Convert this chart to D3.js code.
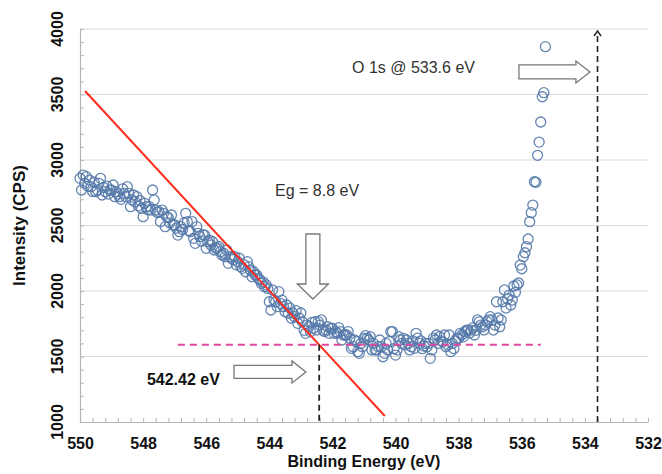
<!DOCTYPE html>
<html>
<head>
<meta charset="utf-8">
<script src="https://cdn.jsdelivr.net/npm/d3@7"></script>
<style>
  html, body { margin: 0; padding: 0; background: #fff; }
  svg { display: block; font-family: "Liberation Sans", Arial, Helvetica, sans-serif; }
</style>
</head>
<body>
<svg id="chart" width="662" height="474"></svg>
<script>
// ---------------- DATA ----------------
const xTickLabels = [550, 548, 546, 544, 542, 540, 538, 536, 534, 532];
const yTickLabels = [1000, 1500, 2000, 2500, 3000, 3500, 4000];
const gridValues = [1500, 2000, 2500, 3000, 3500, 4000];

// Binding energy grid (eV): 550.00 down to 535.25 in 0.05 eV steps
const energyStart = 550.0;
const energyStep = 0.05;
// Intensity (CPS), one value per energy step
const intensity = [
  2860, 2771, 2885, 2822, 2873, 2800, 2847, 2796, 2760, 2830,
  2758, 2771, 2822, 2860, 2733, 2790, 2758, 2800, 2740, 2770,
  2771, 2809, 2720, 2758, 2740, 2720, 2700, 2780, 2745, 2720,
  2796, 2745, 2644, 2695, 2733, 2680, 2720, 2650, 2690, 2630,
  2567, 2669, 2644, 2620, 2644, 2618, 2771, 2695, 2618, 2600,
  2605, 2529, 2618, 2593, 2491, 2567, 2560, 2520, 2580, 2504,
  2504, 2480, 2427, 2453, 2491, 2470, 2520, 2593, 2529, 2460,
  2453, 2530, 2402, 2364, 2491, 2440, 2415, 2380, 2430, 2427,
  2326, 2376, 2389, 2351, 2376, 2313, 2326, 2330, 2340, 2300,
  2275, 2288, 2262, 2313, 2211, 2262, 2250, 2240, 2262, 2200,
  2224, 2250, 2186, 2173, 2200, 2147, 2224, 2186, 2160, 2109,
  2147, 2122, 2122, 2097, 2084, 2058, 2070, 2033, 2046, 2020,
  1918, 1855, 2008, 1931, 1918, 1880, 1995, 1906, 1930, 1880,
  1842, 1893, 1830, 1870, 1792, 1830, 1804, 1850, 1753, 1792,
  1832, 1766, 1700, 1677, 1740, 1727, 1690, 1760, 1715, 1766,
  1702, 1766, 1740, 1779, 1700, 1690, 1702, 1727, 1677, 1715,
  1715, 1677, 1690, 1677, 1720, 1690, 1626, 1664, 1664, 1664,
  1690, 1639, 1562, 1575, 1626, 1613, 1537, 1524, 1600, 1575,
  1639, 1660, 1639, 1626, 1651, 1550, 1600, 1550, 1550, 1575,
  1626, 1575, 1498, 1524, 1600, 1550, 1613, 1690, 1690, 1560,
  1511, 1550, 1651, 1626, 1600, 1639, 1588, 1626, 1600, 1550,
  1575, 1620, 1562, 1677, 1640, 1600, 1620, 1560, 1580, 1600,
  1575, 1600, 1486, 1550, 1640, 1626, 1664, 1600, 1651, 1620,
  1610, 1664, 1575, 1588, 1664, 1537, 1600, 1560, 1620, 1639,
  1639, 1677, 1664, 1650, 1690, 1702, 1702, 1680, 1702, 1720,
  1664, 1700, 1779, 1765, 1740, 1727, 1702, 1740, 1766, 1780,
  1804, 1779, 1702, 1740, 1918, 1794, 1727, 1779, 1918, 2008,
  1870, 1940, 1969, 1893, 1931, 2038, 1990, 2046, 2061, 2198,
  2170, 2262, 2292, 2338, 2397, 2529, 2598, 2656, 2834, 2830,
  3036, 3137, 3290, 3483, 3514, 3865
];

// Annotations (data coordinates)
const tangentLine = [[549.84, 3527], [540.34, 1046]];
const baselineLine = [[546.9, 1590], [535.4, 1590]];
const onsetEnergy = 542.42;
const onsetIntensity = 1590;
const peakEnergy = 533.6;

const labels = [
  { text: "Eg = 8.8 eV", e: 543.82, i: 2725, bold: false },
  { text: "O 1s @ 533.6 eV", e: 541.38, i: 3664, bold: false },
  { text: "542.42 eV", e: 547.88, i: 1282, bold: true }
];

// ---------------- LAYOUT ----------------
const W = 662, H = 474;
const margin = { left: 80, top: 29, right: 14, bottom: 52 };
const svg = d3.select("#chart");

const x = d3.scaleLinear().domain([550, 532]).range([margin.left, W - margin.right]);
const y = d3.scaleLinear().domain([1000, 4000]).range([H - margin.bottom, margin.top]);

const points = intensity.map((v, k) => ({ e: energyStart - k * energyStep, i: v }));

// gridlines
svg.append("g").selectAll("line").data(gridValues).join("line")
  .attr("x1", x(550)).attr("x2", x(532))
  .attr("y1", d => y(d)).attr("y2", d => y(d))
  .attr("stroke", "#d9d9d9").attr("stroke-width", 1.2);

// minor ticks x (every 0.4 eV), inward
const xMinor = d3.range(0, 46).map(k => 550 - k * 0.4);
const gx = svg.append("g").attr("transform", `translate(0,${y(1000)})`)
  .call(d3.axisBottom(x).tickValues(xMinor).tickSize(-4).tickSizeOuter(0).tickFormat(""));
gx.select(".domain").attr("stroke", "#b5b5b5").attr("stroke-width", 1.2);
gx.selectAll(".tick line").attr("stroke", "#b5b5b5");

// minor ticks y (every 100), inward
const yMinor = d3.range(1000, 4001, 100);
const gy = svg.append("g").attr("transform", `translate(${x(550)},0)`)
  .call(d3.axisLeft(y).tickValues(yMinor).tickSize(-4).tickSizeOuter(0).tickFormat(""));
gy.select(".domain").attr("stroke", "#b5b5b5").attr("stroke-width", 1.2);
gy.selectAll(".tick line").attr("stroke", "#b5b5b5");

// x tick labels
const gxl = svg.append("g").attr("transform", `translate(0,${y(1000)})`)
  .call(d3.axisBottom(x).tickValues(xTickLabels).tickSize(0).tickPadding(0).tickFormat(d3.format("d")));
gxl.select(".domain").remove();
gxl.selectAll("text").attr("y", 27).attr("dy", 0)
  .attr("font-size", 16).attr("font-weight", "bold").attr("fill", "#111")
  .attr("font-family", "'Liberation Sans', Arial, sans-serif");

// y tick labels (rotated)
svg.append("g").selectAll("text").data(yTickLabels).join("text")
  .attr("transform", d => `translate(63,${y(d)}) rotate(-90)`)
  .attr("text-anchor", "middle")
  .attr("font-size", 16).attr("font-weight", "bold").attr("fill", "#111")
  .text(d => d);

// axis titles
svg.append("text").attr("x", (x(550) + x(532)) / 2).attr("y", 467)
  .attr("text-anchor", "middle").attr("font-size", 16).attr("font-weight", "bold").attr("fill", "#111")
  .text("Binding Energy (eV)");
svg.append("text").attr("transform", `translate(25,${(y(1000) + y(4000)) / 2}) rotate(-90)`)
  .attr("text-anchor", "middle").attr("font-size", 17).attr("font-weight", "bold").attr("fill", "#111")
  .text("Intensity (CPS)");

// scatter points
svg.append("g").selectAll("circle").data(points).join("circle")
  .attr("cx", d => x(d.e)).attr("cy", d => y(d.i)).attr("r", 5)
  .attr("fill", "none").attr("stroke", "#5479aa").attr("stroke-width", 1.3).attr("stroke-opacity", 0.9);

// tangent (red) line
const line = d3.line().x(d => x(d[0])).y(d => y(d[1]));
svg.append("path").attr("d", line(tangentLine))
  .attr("stroke", "#ff2b1c").attr("stroke-width", 2).attr("fill", "none");

// baseline (magenta dashed)
svg.append("path").attr("d", line(baselineLine))
  .attr("stroke", "#e0479e").attr("stroke-width", 2).attr("stroke-dasharray", "7,5").attr("fill", "none");

// onset vertical dashed
svg.append("line").attr("x1", x(onsetEnergy)).attr("x2", x(onsetEnergy))
  .attr("y1", y(onsetIntensity)).attr("y2", y(1000))
  .attr("stroke", "#222").attr("stroke-width", 1.8).attr("stroke-dasharray", "6,4");

// O 1s vertical dashed with arrowhead
svg.append("line").attr("x1", x(peakEnergy)).attr("x2", x(peakEnergy))
  .attr("y1", y(1000)).attr("y2", y(4000) + 3)
  .attr("stroke", "#222").attr("stroke-width", 1.6).attr("stroke-dasharray", "6,4");
svg.append("path")
  .attr("d", `M${x(peakEnergy) - 3.5},${y(4000) + 7} L${x(peakEnergy)},${y(4000) + 2} L${x(peakEnergy) + 3.5},${y(4000) + 7}`)
  .attr("stroke", "#222").attr("stroke-width", 1.4).attr("fill", "none");

// block arrows
function hArrow(e0, e1, iv, shaftHalf, headHalf, headLen) {
  const x0 = x(e0), x1 = x(e1), yc = y(iv), xh = x1 - headLen;
  return `M${x0},${yc - shaftHalf} L${xh},${yc - shaftHalf} L${xh},${yc - headHalf} L${x1},${yc} L${xh},${yc + headHalf} L${xh},${yc + shaftHalf} L${x0},${yc + shaftHalf} Z`;
}
function vArrow(e, i0, i1, shaftHalf, headHalf, headLen) {
  const xc = x(e), y0 = y(i0), y1 = y(i1), yh = y1 - headLen;
  return `M${xc - shaftHalf},${y0} L${xc - shaftHalf},${yh} L${xc - headHalf},${yh} L${xc},${y1} L${xc + headHalf},${yh} L${xc + shaftHalf},${yh} L${xc + shaftHalf},${y0} Z`;
}
const arrowStyle = sel => sel.attr("fill", "#fff").attr("stroke", "#777").attr("stroke-width", 1.3);
svg.append("path").attr("d", vArrow(542.62, 2435, 1939, 7, 15.5, 15)).call(arrowStyle);
svg.append("path").attr("d", hArrow(545.12, 542.84, 1382, 6.5, 11, 14)).call(arrowStyle);
svg.append("path").attr("d", hArrow(536.09, 533.84, 3672, 7, 11, 14)).call(arrowStyle);

// text labels
svg.append("g").selectAll("text").data(labels).join("text")
  .attr("x", d => x(d.e)).attr("y", d => y(d.i))
  .attr("font-size", 16)
  .attr("font-weight", d => d.bold ? "bold" : "normal")
  .attr("fill", d => d.bold ? "#111" : "#333")
  .text(d => d.text);
</script>
</body>
</html>
